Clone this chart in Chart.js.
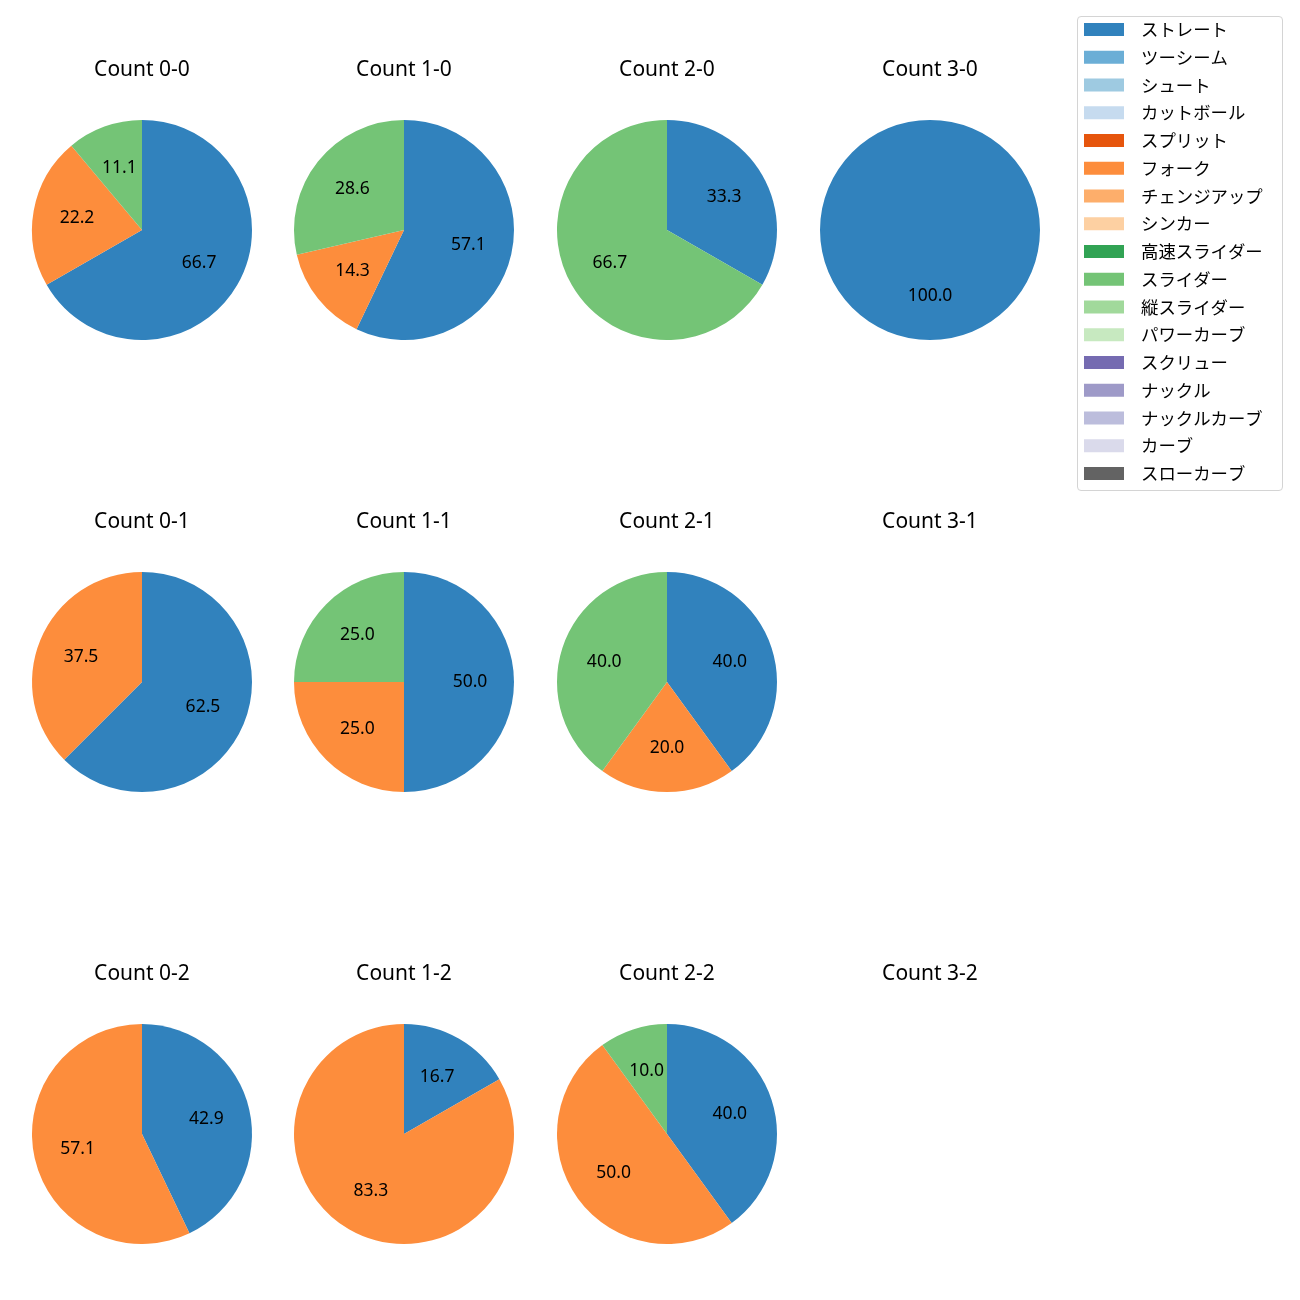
<!DOCTYPE html>
<html>
<head>
<meta charset="utf-8">
<script src="https://cdn.jsdelivr.net/npm/chart.js@4.4.1/dist/chart.umd.min.js"></script>
<style>
  body { margin: 0; background: #fff; }
  #page { position: relative; width: 1300px; height: 1300px; }
  .cell { position: absolute; }
  #legendBox { position: absolute; left: 1077px; top: 16px; width: 206px; height: 475px;
               border: 1px solid #d4d4d4; border-radius: 4px; box-sizing: border-box; }
</style>
</head>
<body>
<div id="page"><div id="legendBox"></div></div>
<script>
const pitchTypes = ['ストレート', 'ツーシーム', 'シュート', 'カットボール', 'スプリット', 'フォーク',
  'チェンジアップ', 'シンカー', '高速スライダー', 'スライダー', '縦スライダー', 'パワーカーブ',
  'スクリュー', 'ナックル', 'ナックルカーブ', 'カーブ', 'スローカーブ'];
const pitchColors = ['#3182bd', '#6baed6', '#9ecae1', '#c6dbef', '#e6550d', '#fd8d3c',
  '#fdae6b', '#fdd0a2', '#31a354', '#74c476', '#a1d99b', '#c7e9c0',
  '#756bb1', '#9e9ac8', '#bcbddc', '#dadaeb', '#636363'];

// counts in grid order (row by row)
const countLabels = ['0-0', '1-0', '2-0', '3-0', '0-1', '1-1', '2-1', '3-1', '0-2', '1-2', '2-2', '3-2'];
const straightPct = [66.7, 57.1, 33.3, 100.0, 62.5, 50.0, 40.0, 0, 42.9, 16.7, 40.0, 0];
const forkPct     = [22.2, 14.3, 0, 0, 37.5, 25.0, 20.0, 0, 57.1, 83.3, 50.0, 0];
const sliderPct   = [11.1, 28.6, 66.7, 0, 0, 25.0, 40.0, 0, 0, 0, 10.0, 0];

const FONT = '"Noto Sans", "Noto Sans CJK JP", sans-serif';
const JP_FONT = '"Noto Sans CJK JP", "Noto Sans", sans-serif';
Chart.defaults.font.family = FONT;
Chart.defaults.color = '#000';

const colX = [142, 404, 667, 930];
const rowY = [230, 682, 1134];

// percentage text at 0.6 of the radius, like matplotlib autopct
const pctLabels = {
  id: 'pctLabels',
  afterDatasetsDraw(chart) {
    const ctx = chart.ctx;
    const vals = chart.data.datasets[0].data;
    const total = vals.reduce((a, b) => a + b, 0);
    if (!total) return;
    ctx.save();
    ctx.font = '17.5px ' + FONT;
    ctx.fillStyle = '#000';
    ctx.textAlign = 'center';
    ctx.textBaseline = 'middle';
    chart.getDatasetMeta(0).data.forEach((arc, i) => {
      if (!vals[i]) return;
      const p = arc.getProps(['x', 'y', 'startAngle', 'endAngle', 'outerRadius'], true);
      const mid = (p.startAngle + p.endAngle) / 2;
      const r = p.outerRadius * 0.6;
      ctx.fillText((vals[i] / total * 100).toFixed(1), p.x + Math.cos(mid) * r, p.y + Math.sin(mid) * r);
    });
    ctx.restore();
  }
};

const page = document.getElementById('page');

countLabels.forEach((c, i) => {
  const cx = colX[i % 4], cy = rowY[Math.floor(i / 4)];
  const cv = document.createElement('canvas');
  cv.className = 'cell';
  cv.width = 260; cv.height = 283;
  cv.style.left = (cx - 130) + 'px';
  cv.style.top = (cy - 173) + 'px';
  page.appendChild(cv);
  new Chart(cv, {
    type: 'pie',
    data: {
      labels: ['ストレート', 'フォーク', 'スライダー'],
      datasets: [{
        data: [straightPct[i], forkPct[i], sliderPct[i]],
        backgroundColor: [pitchColors[0], pitchColors[5], pitchColors[9]],
        borderWidth: 0
      }]
    },
    options: {
      responsive: false,
      animation: false,
      layout: { padding: { left: 20, right: 20 } },
      plugins: {
        legend: { display: false },
        tooltip: { enabled: false },
        title: {
          display: true,
          text: 'Count ' + c,
          font: { size: 21, weight: 'normal', lineHeight: 1.2 },
          color: '#000',
          padding: { top: 0, bottom: 37.8 }
        }
      }
    },
    plugins: [pctLabels]
  });
});

// legend listing every pitch type
const legendDraw = {
  id: 'legendDraw',
  afterDraw(chart) {
    const ctx = chart.ctx;
    ctx.save();
    ctx.font = '17.4px ' + JP_FONT;
    ctx.textBaseline = 'middle';
    chart.data.labels.forEach((lab, i) => {
      const y = 13.5 + i * 27.75;
      ctx.fillStyle = chart.data.datasets[0].backgroundColor[i];
      ctx.fillRect(7, y - 6.5, 40, 13);
      ctx.fillStyle = '#000';
      ctx.fillText(lab, 64, y);
    });
    ctx.restore();
  }
};

const lc = document.createElement('canvas');
lc.className = 'cell';
lc.width = 206; lc.height = 475;
lc.style.left = '1077px';
lc.style.top = '16px';
page.appendChild(lc);
new Chart(lc, {
  type: 'pie',
  data: {
    labels: pitchTypes,
    datasets: [{ data: pitchTypes.map(() => 0), backgroundColor: pitchColors, borderWidth: 0 }]
  },
  options: {
    responsive: false,
    animation: false,
    plugins: { legend: { display: false }, tooltip: { enabled: false } }
  },
  plugins: [legendDraw]
});
</script>
</body>
</html>
